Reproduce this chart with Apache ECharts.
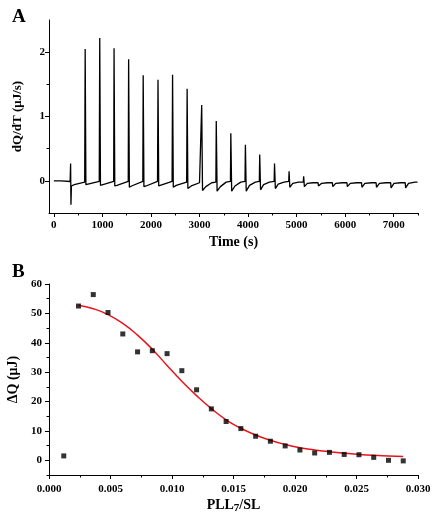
<!DOCTYPE html>
<html>
<head>
<meta charset="utf-8">
<script src="https://cdn.jsdelivr.net/npm/echarts@6.0.0/dist/echarts.min.js"></script>
<style>
  html, body { margin: 0; padding: 0; background: #fff; }
  #main { width: 432px; height: 518px; }
</style>
</head>
<body>
<div id="main"></div>
<script>
// panel A: raw ITC trace (time in s, heat flow in uJ/s)
var traceTime = [0, 150, 335, 345, 352, 362, 420, 635,
  645, 660, 700, 935,
  945, 960, 1000, 1232,
  1240, 1255, 1300, 1532,
  1540, 1555, 1600, 1832,
  1840, 1855, 1900, 2135,
  2145, 2160, 2200, 2435,
  2445, 2460, 2520, 2735,
  2745, 2760, 2830, 3000, 3037,
  3045, 3062, 3130, 3250, 3337,
  3345, 3362, 3430, 3550, 3637,
  3645, 3662, 3730, 3850, 3937,
  3945, 3962, 4030, 4150, 4232,
  4240, 4257, 4320, 4440, 4537,
  4545, 4562, 4620, 4740, 4837,
  4845, 4860, 4920, 5040, 5137,
  5145, 5160, 5220, 5340, 5442,
  5450, 5510, 5640, 5737,
  5745, 5805, 5940, 6037,
  6045, 6105, 6240, 6337,
  6345, 6405, 6540, 6637,
  6645, 6705, 6840, 6937,
  6945, 7005, 7140, 7237,
  7245, 7305, 7440, 7490];
var traceHeat = [0.00, 0.00, -0.01, 0.27, -0.37, -0.08, -0.06, -0.02,
  2.05, -0.06, -0.05, -0.01,
  2.22, -0.07, -0.06, -0.01,
  2.06, -0.08, -0.07, -0.01,
  1.89, -0.10, -0.08, -0.01,
  1.64, -0.09, -0.08, -0.01,
  1.57, -0.08, -0.07, -0.01,
  1.65, -0.10, -0.07, -0.02,
  1.43, -0.12, -0.08, -0.03, -0.02,
  1.18, -0.15, -0.09, -0.03, -0.02,
  0.93, -0.16, -0.09, -0.02, -0.01,
  0.74, -0.16, -0.08, -0.02, -0.01,
  0.56, -0.16, -0.07, -0.02, -0.01,
  0.41, -0.14, -0.06, -0.02, -0.01,
  0.27, -0.12, -0.05, -0.02, -0.01,
  0.15, -0.10, -0.04, -0.02, -0.02,
  0.07, -0.09, -0.04, -0.03, -0.03,
  -0.08, -0.04, -0.03, -0.03,
  -0.09, -0.04, -0.03, -0.03,
  -0.09, -0.04, -0.03, -0.03,
  -0.10, -0.04, -0.03, -0.03,
  -0.10, -0.04, -0.03, -0.03,
  -0.11, -0.04, -0.03, -0.03,
  -0.11, -0.04, -0.02, -0.02];

// panel B: integrated heats vs molar ratio
var ratio = [0.0012, 0.0024, 0.0036, 0.0048, 0.0060, 0.0072, 0.0084, 0.0096,
  0.0108, 0.0120, 0.0132, 0.0144, 0.0156, 0.0168, 0.0180, 0.0192,
  0.0204, 0.0216, 0.0228, 0.0240, 0.0252, 0.0264, 0.0276, 0.0288];
var heat = [1.5, 52.5, 56.4, 50.3, 43.0, 36.9, 37.3, 36.3,
  30.5, 24.0, 17.5, 13.2, 10.8, 8.2, 6.5, 4.9,
  3.5, 2.5, 2.7, 2.0, 1.9, 1.0, 0.0, -0.2];
var fitRatio = [0.0024, 0.0036, 0.0048, 0.0060, 0.0072, 0.0084, 0.0096, 0.0108,
  0.0120, 0.0132, 0.0144, 0.0156, 0.0168, 0.0180, 0.0192, 0.0204,
  0.0216, 0.0228, 0.0240, 0.0252, 0.0264, 0.0276, 0.0288];
var fitHeat = [52.8, 51.6, 49.6, 46.6, 42.6, 37.8, 32.3, 26.9,
  22.0, 17.6, 13.8, 10.9, 8.6, 6.8, 5.4, 4.3,
  3.5, 2.9, 2.4, 2.0, 1.7, 1.5, 1.3];

// tick positions
var timeTicks = [0, 1000, 2000, 3000, 4000, 5000, 6000, 7000];
var timeMinor = [500, 1500, 2500, 3500, 4500, 5500, 6500, 7500];
var rateTicks = [0, 1, 2];
var rateMinor = [0.5, 1.5];
var ratioTicks = [0, 0.005, 0.010, 0.015, 0.020, 0.025, 0.030];
var ratioMinor = [0.0025, 0.0075, 0.0125, 0.0175, 0.0225, 0.0275];
var heatTicks = [0, 10, 20, 30, 40, 50, 60];
var heatMinor = [-5, 5, 15, 25, 35, 45, 55];

var font = 'Liberation Serif';
function zip(a, b) {
  var out = [];
  for (var i = 0; i < a.length; i++) out.push([a[i], b[i]]);
  return out;
}

// major axis with labels
function majorAxis(grid, pos, min, max, ticks, margin, fmt) {
  return {
    type: 'value', gridIndex: grid, position: pos, min: min, max: max,
    axisLine: { show: true, onZero: false, lineStyle: { color: '#000', width: 1 } },
    axisTick: { show: true, length: 4, customValues: ticks, lineStyle: { color: '#000' } },
    axisLabel: { customValues: ticks, margin: margin, color: '#000', fontFamily: font, fontWeight: 'bold', fontSize: 11, formatter: fmt },
    splitLine: { show: false }
  };
}
// extra axis only for minor ticks
function minorAxis(grid, pos, min, max, ticks) {
  return {
    type: 'value', gridIndex: grid, position: pos, offset: 0, min: min, max: max,
    axisLine: { show: false, onZero: false },
    axisTick: { show: true, length: 2.5, customValues: ticks, lineStyle: { color: '#000' } },
    axisLabel: { show: false },
    splitLine: { show: false }
  };
}

var xA = majorAxis(0, 'bottom', -100, 7500, timeTicks, 7, function (v) { return String(v); });
xA.name = 'Time (s)';
xA.nameLocation = 'middle';
xA.nameGap = 22;
xA.nameTextStyle = { fontFamily: font, fontWeight: 'bold', fontSize: 14, color: '#000' };

var yA = majorAxis(0, 'left', -0.5, 2.5, rateTicks, 4, function (v) { return String(v); });
yA.name = 'dQ/dT (\u03bcJ/s)';
yA.nameLocation = 'middle';
yA.nameGap = 25;
yA.nameTextStyle = { fontFamily: font, fontWeight: 'bold', fontSize: 13, color: '#000' };

var xB = majorAxis(1, 'bottom', 0, 0.030, ratioTicks, 9, function (v) { return v.toFixed(3); });
xB.name = 'PLL{s|7}/SL';
xB.nameLocation = 'middle';
xB.nameGap = 21;
xB.nameTextStyle = {
  fontFamily: font, fontWeight: 'bold', fontSize: 14, color: '#000',
  rich: { s: { fontFamily: font, fontWeight: 'bold', fontSize: 11, color: '#000', padding: [7, 0, 0, 0] } }
};

var yB = majorAxis(1, 'left', -5, 60, heatTicks, 7, function (v) { return String(v); });
yB.name = '\u0394Q (\u03bcJ)';
yB.nameLocation = 'middle';
yB.nameGap = 24;
yB.nameTextStyle = { fontFamily: font, fontWeight: 'bold', fontSize: 14, color: '#000' };

var myChart = echarts.init(document.getElementById('main'));
var option = {
  backgroundColor: '#fff',
  animation: false,
  grid: [
    { left: 49, right: 14, top: 20, height: 193, containLabel: false, outerBoundsMode: 'none' },
    { left: 49, right: 14, top: 284, height: 191, containLabel: false, outerBoundsMode: 'none' }
  ],
  xAxis: [xA, minorAxis(0, 'bottom', -100, 7500, timeMinor), xB, minorAxis(1, 'bottom', 0, 0.030, ratioMinor)],
  yAxis: [yA, minorAxis(0, 'left', -0.5, 2.5, rateMinor), yB, minorAxis(1, 'left', -5, 60, heatMinor)],
  graphic: [
    { type: 'text', left: 12, top: 8, style: { text: 'A', fontFamily: font, fontWeight: 'bold', fontSize: 19, fill: '#000' } },
    { type: 'text', left: 12, top: 263, style: { text: 'B', fontFamily: font, fontWeight: 'bold', fontSize: 19, fill: '#000' } }
  ],
  series: [
    {
      type: 'line', xAxisIndex: 0, yAxisIndex: 0,
      data: zip(traceTime, traceHeat),
      showSymbol: false,
      lineStyle: { color: '#000', width: 1.3 }
    },
    {
      type: 'line', xAxisIndex: 2, yAxisIndex: 2,
      data: zip(fitRatio, fitHeat),
      showSymbol: false, smooth: true,
      lineStyle: { color: '#e8141b', width: 1.5 }
    },
    {
      type: 'scatter', xAxisIndex: 2, yAxisIndex: 2,
      data: zip(ratio, heat),
      symbol: 'rect', symbolSize: 5,
      itemStyle: { color: '#000' },
      z: 3
    }
  ]
};
myChart.setOption(option);
</script>
</body>
</html>
